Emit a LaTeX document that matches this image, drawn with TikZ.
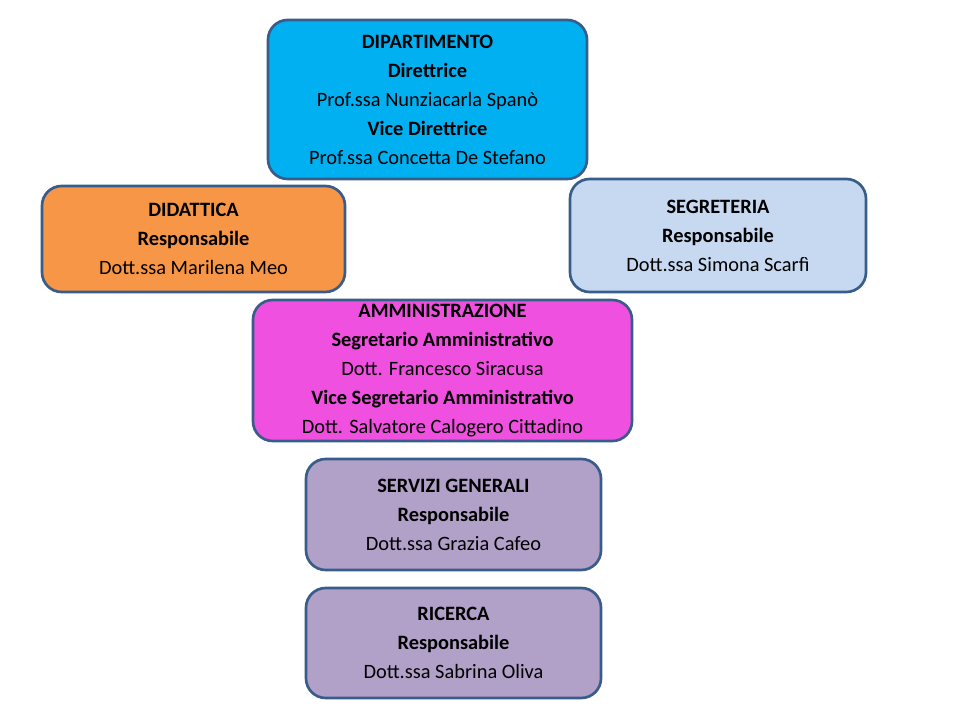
\documentclass[tikz,border=0pt]{standalone}
\usepackage{fontspec}
\setmainfont{Carlito}
\definecolor{deptblue}{RGB}{0,176,240}
\definecolor{didorange}{RGB}{247,150,70}
\definecolor{seglight}{RGB}{198,217,241}
\definecolor{ammmagenta}{RGB}{240,80,224}
\definecolor{servlilac}{RGB}{177,160,199}
\definecolor{edgeblue}{RGB}{56,93,138}
\tikzset{%
  unitbox/.style = {
    draw=edgeblue, line width=1.9pt, rounded corners=14pt,
    align=center, inner sep=0pt,
    font=\fontsize{14.5pt}{20.6pt}\selectfont,
  }
}

\begin{document}
\begin{tikzpicture}[x=0.025cm,y=-0.025cm]
\useasboundingbox (0,0) rectangle (960,720);
\node[unitbox,fill=deptblue,minimum width=319*0.025cm,minimum height=159*0.025cm]
  (dip) at (427.5,99.5) {\textbf{DIPARTIMENTO}\\ \textbf{Direttrice}\\
  Prof.ssa Nunziacarla Spanò\\ \textbf{Vice Direttrice}\\
  Prof.ssa Concetta De Stefano};
\node[unitbox,fill=didorange,minimum width=303*0.025cm,minimum height=106*0.025cm]
  (did) at (193.5,239) {\textbf{DIDATTICA}\\ \textbf{Responsabile}\\
  Dott.ssa Marilena Meo};
\node[unitbox,fill=seglight,minimum width=296*0.025cm,minimum height=113*0.025cm]
  (seg) at (718,235.5) {\textbf{SEGRETERIA}\\ \textbf{Responsabile}\\
  Dott.ssa Simona Scarfì};
\node[unitbox,fill=ammmagenta,minimum width=379*0.025cm,minimum height=141*0.025cm]
  (amm) at (442.5,370.5) {\textbf{AMMINISTRAZIONE}\\
  \textbf{Segretario Amministrativo}\\ Dott. Francesco Siracusa\\
  \textbf{Vice Segretario Amministrativo}\\ Dott. Salvatore Calogero Cittadino};
\node[unitbox,fill=servlilac,minimum width=295*0.025cm,minimum height=111*0.025cm]
  (serv) at (453.5,514.5) {\textbf{SERVIZI GENERALI}\\ \textbf{Responsabile}\\
  Dott.ssa Grazia Cafeo};
\node[unitbox,fill=servlilac,minimum width=295*0.025cm,minimum height=110*0.025cm]
  (ric) at (453.5,643) {\textbf{RICERCA}\\ \textbf{Responsabile}\\
  Dott.ssa Sabrina Oliva};
\end{tikzpicture}
\end{document}
